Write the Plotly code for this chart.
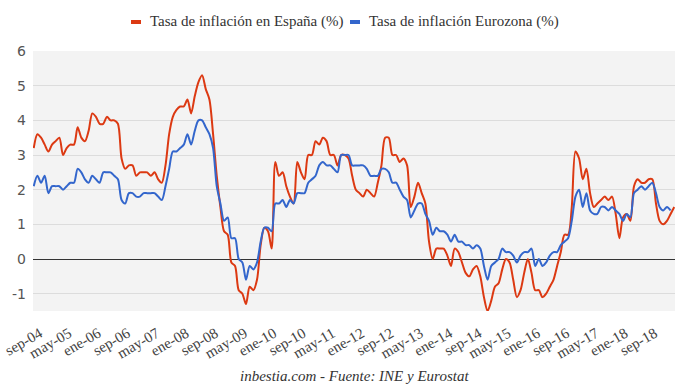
import plotly.graph_objects as go

# Monthly categories: sep-2004 .. abr-2019
month_abbr = ["ene", "feb", "mar", "abr", "may", "jun", "jul", "ago", "sep", "oct", "nov", "dic"]
months = []
y, m = 2004, 8
while (y, m) <= (2019, 3):
    months.append(f"{month_abbr[m]}-{str(y)[2:]}")
    m += 1
    if m == 12:
        m = 0
        y += 1

spain = [
    3.2, 3.6, 3.5, 3.3,
    3.1, 3.3, 3.4, 3.5, 3.0, 3.2, 3.3, 3.3, 3.8, 3.5, 3.4, 3.7,
    4.2, 4.1, 3.9, 3.9, 4.1, 4.0, 4.0, 3.9, 2.9, 2.6, 2.7, 2.7,
    2.4, 2.5, 2.5, 2.5, 2.4, 2.5, 2.3, 2.2, 2.7, 3.6, 4.1, 4.3,
    4.4, 4.4, 4.6, 4.2, 4.7, 5.1, 5.3, 4.9, 4.6, 3.6, 2.4, 1.5,
    0.8, 0.7, -0.1, -0.2, -0.9, -1.0, -1.3, -0.8, -0.9, -0.6, 0.4, 0.9,
    0.8, 0.3, 2.8, 2.4, 2.5, 2.1, 1.8, 1.6, 2.8, 2.5, 2.3, 3.0,
    3.0, 3.4, 3.3, 3.5, 3.4, 3.0, 3.0, 2.7, 3.0, 3.0, 2.9, 2.4,
    2.0, 1.9, 1.8, 2.0, 1.9, 1.8, 2.2, 2.7, 3.5, 3.5, 3.0, 3.0,
    2.8, 2.9, 2.7, 1.5, 1.8, 2.2, 1.9, 1.6, 0.5, 0.0, 0.3, 0.3,
    0.3, 0.1, -0.2, 0.3, 0.2, -0.1, -0.4, -0.5, -0.3, -0.2, -0.5, -1.1,
    -1.5, -1.2, -0.8, -0.7, -0.3, 0.0, -0.1, -0.6, -1.1, -0.9, -0.4, 0.0,
    -0.4, -0.9, -0.9, -1.1, -1.0, -0.8, -0.6, -0.2, 0.2, 0.7, 0.7, 1.5,
    3.1, 2.9, 2.3, 2.6, 1.9, 1.5, 1.6, 1.7, 1.8, 1.7, 1.8, 1.3,
    0.6, 1.2, 1.3, 1.1, 2.1, 2.3, 2.2, 2.2, 2.3, 2.3, 1.6, 1.1,
    1.0, 1.1, 1.3, 1.5,
]

eurozone = [
    2.1, 2.4, 2.2, 2.4,
    1.9, 2.1, 2.1, 2.1, 2.0, 2.1, 2.2, 2.2, 2.6, 2.5, 2.3, 2.2,
    2.4, 2.3, 2.2, 2.5, 2.5, 2.5, 2.4, 2.3, 1.7, 1.6, 1.9, 1.9,
    1.8, 1.8, 1.9, 1.9, 1.9, 1.9, 1.8, 1.7, 2.1, 2.6, 3.1, 3.1,
    3.2, 3.3, 3.6, 3.3, 3.7, 4.0, 4.0, 3.8, 3.6, 3.2, 2.1, 1.6,
    1.1, 1.2, 0.6, 0.6, 0.0, -0.1, -0.6, -0.2, -0.3, -0.1, 0.5, 0.9,
    0.9, 0.8, 1.6, 1.6, 1.7, 1.5, 1.7, 1.6, 1.9, 1.9, 1.9, 2.2,
    2.3, 2.4, 2.7, 2.8, 2.7, 2.7, 2.6, 2.5, 3.0, 3.0, 3.0, 2.7,
    2.7, 2.7, 2.7, 2.6, 2.4, 2.4, 2.4, 2.6, 2.6, 2.5, 2.2, 2.2,
    2.0, 1.8, 1.7, 1.2, 1.4, 1.6, 1.6, 1.3, 1.1, 0.7, 0.9, 0.8,
    0.8, 0.7, 0.5, 0.7, 0.5, 0.5, 0.4, 0.4, 0.3, 0.4, 0.3, -0.2,
    -0.6, -0.2, -0.1, 0.0, 0.3, 0.2, 0.2, 0.1, -0.1, 0.1, 0.2, 0.2,
    0.3, -0.2, 0.0, -0.2, -0.1, 0.1, 0.2, 0.2, 0.4, 0.5, 0.6, 1.1,
    1.8, 2.0, 1.5, 1.9, 1.4, 1.3, 1.3, 1.5, 1.5, 1.4, 1.5, 1.4,
    1.3, 1.1, 1.3, 1.2, 1.9, 2.0, 2.1, 2.0, 2.1, 2.2, 1.9, 1.5,
    1.4, 1.5, 1.4,
]

tick_labels = ["sep-04", "may-05", "ene-06", "sep-06", "may-07", "ene-08", "sep-08",
               "may-09", "ene-10", "sep-10", "may-11", "ene-12", "sep-12", "may-13",
               "ene-14", "sep-14", "may-15", "ene-16", "sep-16", "may-17", "ene-18", "sep-18"]
y_ticks = [-1, 0, 1, 2, 3, 4, 5, 6]
y_tick_text = ["-1", "0", "1", "2", "3", "4", "5", "6"]

names = ["Tasa de inflación en España (%)", "Tasa de inflación Eurozona (%)"]
RED = "#dc3912"
BLUE = "#3366cc"
SERIF = '"Liberation Serif", "Times New Roman", Times, serif'

# plot area in pixels (for placing the hand-made legend)
L, R, T, B = 33, 5, 51, 79
W, H = 680, 390
PW, PH = W - L - R, H - T - B


def px_x(px):
    return (px - L) / PW


def px_y(py):
    return (H - B - py) / PH


fig = go.Figure()
fig.add_trace(go.Scatter(x=months[:len(spain)], y=spain, mode="lines", name=names[0],
                         line=dict(color=RED, width=2, shape="spline", smoothing=0.8),
                         showlegend=False, hoverinfo="skip"))
fig.add_trace(go.Scatter(x=months[:len(eurozone)], y=eurozone, mode="lines", name=names[1],
                         line=dict(color=BLUE, width=2, shape="spline", smoothing=0.8),
                         showlegend=False, hoverinfo="skip"))

legend_items = [(131, 148, names[0], RED), (350, 367, names[1], BLUE)]
shapes = []
annotations = []
for bx, tx, nm, col in legend_items:
    shapes.append(dict(type="line", xref="paper", yref="paper",
                       x0=px_x(bx), x1=px_x(bx + 10), y0=px_y(22), y1=px_y(22),
                       line=dict(color=col, width=4)))
    annotations.append(dict(text=nm, xref="paper", yref="paper", x=px_x(tx), y=px_y(22),
                            xanchor="left", yanchor="middle", showarrow=False,
                            font=dict(family=SERIF, size=15, color="#333")))
annotations.append(dict(text="inbestia.com - Fuente: INE y Eurostat", xref="paper", yref="paper",
                        x=px_x(355), y=px_y(376), xanchor="center", yanchor="middle",
                        showarrow=False,
                        font=dict(family=SERIF, size=15, color="#333", style="italic")))

fig.update_layout(
    width=W, height=H,
    margin=dict(l=L, r=R, t=T, b=B, autoexpand=False),
    paper_bgcolor="white",
    plot_bgcolor="#f3f3f3",
    font=dict(family=SERIF, color="#333"),
    showlegend=False,
    shapes=shapes,
    annotations=annotations,
)
fig.update_xaxes(type="category", categoryorder="array", categoryarray=months,
                 range=[-0.2, len(months) - 1 + 0.2], automargin=False,
                 tickmode="array", tickvals=tick_labels, ticktext=tick_labels,
                 tickangle=-30, showgrid=False, zeroline=False, showline=False, ticks="",
                 ticklabelstandoff=10, ticklabelshift=6,
                 tickfont=dict(family=SERIF, size=15, color="#444"))
fig.update_yaxes(range=[-1.5, 6], tickmode="array", tickvals=y_ticks, ticktext=y_tick_text,
                 automargin=False,
                 showgrid=True, gridcolor="#dcdcdc", gridwidth=1,
                 zeroline=True, zerolinecolor="#333", zerolinewidth=1,
                 showline=False, ticks="", ticklabelstandoff=6,
                 tickfont=dict(family="DejaVu Sans", size=14, color="#555"))

fig.write_html("out.html", config={"displayModeBar": False},
               post_script="document.body.style.margin='0';")
